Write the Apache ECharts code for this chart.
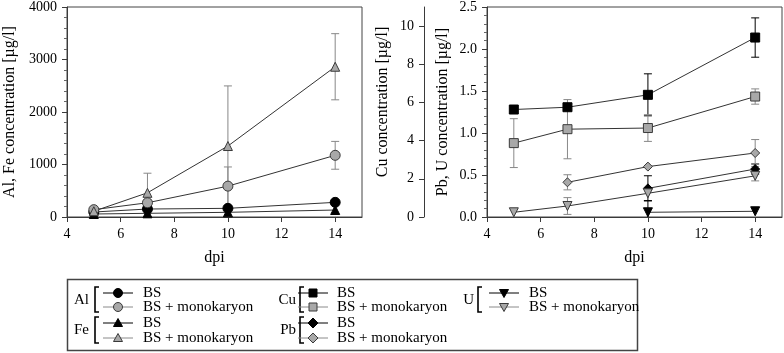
<!DOCTYPE html>
<html>
<head>
<meta charset="utf-8">
<script src="https://cdn.jsdelivr.net/npm/echarts@6/dist/echarts.min.js"></script>
<style>
  html, body { margin: 0; padding: 0; background: #fff; }
  #chart { width: 784px; height: 353px; }
</style>
</head>
<body>
<div id="chart"></div>
<script>
// days post infection
const dpi = [5, 7, 10, 14];

// left panel, µg/l
const alBS = [95, 152, 165, 279];
const alMono = [140, 271, 588, 1175];
const alMonoErr = [null, 60, 365, 265];
const feBS = [57, 70, 89, 133];
const feMono = [110, 461, 1352, 2862];
const feMonoErr = [null, 373, 1145, 630];

// right panel, Cu on its own axis
const cuBS = [5.63, 5.75, 6.40, 9.40];
const cuBSErr = [null, null, 1.1, 1.03];
const cuMono = [3.87, 4.60, 4.66, 6.31];
const cuMonoErr = [1.28, 1.55, 0.7, 0.4];

// Pb, U
const pbBS = [null, null, 0.341, 0.571];
const pbBSErr = [null, null, 0.15, 0.06];
const pbMono = [null, 0.413, 0.60, 0.762];
const pbMonoErr = [null, 0.09, null, 0.16];
const uBS = [null, null, 0.056, 0.068];
const uBSErr = [null, null, 0.14, null];
const uMono = [0.056, 0.131, 0.282, 0.49];
const uMonoErr = [null, 0.1, null, 0.06];

const xTicks = [4, 6, 8, 10, 12, 14];
const cuTicks = [0, 2, 4, 6, 8, 10];

const FONT = 'Liberation Serif';
const BLACK = '#000';
const GRAY = '#a8a8a8';
const EDGE = '#3a3a3a';

function pts(vals) {
  return dpi.map((d, i) => vals[i] == null ? null : [d, vals[i]]).filter(Boolean);
}
function errPts(vals, errs) {
  return dpi.map((d, i) => (vals[i] == null || errs[i] == null) ? null : [d, vals[i], errs[i]]).filter(Boolean);
}

function lineSeries(name, vals, xi, yi, symbol, fill, rotate) {
  return {
    name: name, type: 'line', xAxisIndex: xi, yAxisIndex: yi,
    data: pts(vals), symbol: symbol, symbolSize: symbol === 'circle' ? 10 : 9,
    symbolRotate: rotate || 0, z: 5, animation: false,
    lineStyle: { color: '#333', width: 1 },
    itemStyle: { color: fill, borderColor: fill === BLACK ? BLACK : EDGE, borderWidth: 1 }
  };
}

function errSeries(vals, errs, xi, yi, color) {
  return {
    type: 'custom', xAxisIndex: xi, yAxisIndex: yi, z: 2, animation: false,
    data: errPts(vals, errs),
    renderItem: function (params, api) {
      const x = api.value(0), y = api.value(1), e = api.value(2);
      const lo = Math.max(y - e, 0);
      const top = api.coord([x, y + e]);
      const bot = api.coord([x, lo]);
      const w = 4;
      const st = { stroke: color, lineWidth: 1 };
      const kids = [
        { type: 'line', shape: { x1: top[0], y1: top[1], x2: bot[0], y2: bot[1] }, style: st },
        { type: 'line', shape: { x1: top[0] - w, y1: top[1], x2: top[0] + w, y2: top[1] }, style: st }
      ];
      if (y - e >= 0) {
        kids.push({ type: 'line', shape: { x1: bot[0] - w, y1: bot[1], x2: bot[0] + w, y2: bot[1] }, style: st });
      }
      return { type: 'group', children: kids };
    }
  };
}

const labelStyle = { fontFamily: FONT, fontSize: 14, color: BLACK, margin: 10 };
const nameStyle = { fontFamily: FONT, fontSize: 16, color: BLACK };

function xAxis(gi) {
  return {
    type: 'value', gridIndex: gi, min: 4, max: 15, interval: 2,
    name: 'dpi', nameLocation: 'middle', nameGap: 33,
    nameTextStyle: nameStyle,
    axisLine: { lineStyle: { color: EDGE } },
    axisTick: { length: 5, lineStyle: { color: EDGE }, customValues: xTicks },
    axisLabel: Object.assign({ customValues: xTicks }, labelStyle),
    splitLine: { show: false }
  };
}

// legend drawn by hand (bracketed groups)
const legendGroups = [
  { label: 'Al', lx: 89, bx: 95, mx: 118, tx: 143, y1: 293, y2: 307,
    rows: [['circle', BLACK, 'BS'], ['circle', GRAY, 'BS + monokaryon']] },
  { label: 'Fe', lx: 89, bx: 95, mx: 118, tx: 143, y1: 323, y2: 338,
    rows: [['triangle', BLACK, 'BS'], ['triangle', GRAY, 'BS + monokaryon']] },
  { label: 'Cu', lx: 296, bx: 300, mx: 313, tx: 337, y1: 293, y2: 307,
    rows: [['rect', BLACK, 'BS'], ['rect', GRAY, 'BS + monokaryon']] },
  { label: 'Pb', lx: 296, bx: 300, mx: 313, tx: 337, y1: 323, y2: 338,
    rows: [['diamond', BLACK, 'BS'], ['diamond', GRAY, 'BS + monokaryon']] },
  { label: 'U', lx: 474, bx: 478, mx: 504, tx: 529, y1: 293, y2: 307,
    rows: [['down', BLACK, 'BS'], ['down', GRAY, 'BS + monokaryon']] }
];

function marker(kind, cx, cy, fill) {
  const style = { fill: fill, stroke: fill === BLACK ? BLACK : EDGE, lineWidth: 1 };
  const s = 4.5;
  if (kind === 'circle') return { type: 'circle', shape: { cx: cx, cy: cy, r: 4.5 }, style: style };
  if (kind === 'rect') return { type: 'rect', shape: { x: cx - 4, y: cy - 4, width: 8, height: 8 }, style: style };
  if (kind === 'triangle') return { type: 'polygon', shape: { points: [[cx, cy - s], [cx + s, cy + s - 1], [cx - s, cy + s - 1]] }, style: style };
  if (kind === 'down') return { type: 'polygon', shape: { points: [[cx, cy + s], [cx + s, cy - s + 1], [cx - s, cy - s + 1]] }, style: style };
  return { type: 'polygon', shape: { points: [[cx, cy - s - 0.5], [cx + s + 0.5, cy], [cx, cy + s + 0.5], [cx - s - 0.5, cy]] }, style: style };
}

const graphics = [
  { type: 'rect', shape: { x: 67.5, y: 279.5, width: 570, height: 71 },
    style: { fill: 'none', stroke: '#444', lineWidth: 1.5 } }
];
legendGroups.forEach(g => {
  const mid = (g.y1 + g.y2) / 2;
  graphics.push({ type: 'text', x: g.lx, y: mid,
    style: { text: g.label, font: '15px ' + FONT, fill: BLACK, align: 'right', verticalAlign: 'middle' } });
  graphics.push({ type: 'polyline', shape: { points: [[g.bx + 4, g.y1 - 6], [g.bx, g.y1 - 6], [g.bx, g.y2 + 5], [g.bx + 4, g.y2 + 5]] },
    style: { stroke: BLACK, lineWidth: 1.6, fill: 'none' } });
  g.rows.forEach((r, i) => {
    const y = i === 0 ? g.y1 : g.y2;
    graphics.push({ type: 'line', shape: { x1: g.mx - 15, y1: y, x2: g.mx + 15, y2: y },
      style: { stroke: r[1] === BLACK ? BLACK : '#8a8a8a', lineWidth: 1 } });
    graphics.push(marker(r[0], g.mx, y, r[1]));
    graphics.push({ type: 'text', x: g.tx, y: y,
      style: { text: r[2], font: '15px ' + FONT, fill: BLACK, verticalAlign: 'middle' } });
  });
});

const option = {
  backgroundColor: '#fff',
  animation: false,
  textStyle: { fontFamily: FONT },
  grid: [
    { left: 67, top: 6, width: 295, height: 211, show: true, borderColor: '#444', borderWidth: 1 },
    { left: 487, top: 6, width: 295, height: 211, show: true, borderColor: '#444', borderWidth: 1 }
  ],
  xAxis: [xAxis(0), xAxis(1)],
  yAxis: [
    {
      type: 'value', gridIndex: 0, min: 0, max: 4000, interval: 1000,
      name: 'Al, Fe concentration [µg/l]', nameLocation: 'middle', nameGap: 49,
      nameTextStyle: nameStyle,
      axisLine: { show: true, lineStyle: { color: EDGE } },
      axisTick: { length: 5, lineStyle: { color: EDGE } },
      minorTick: { show: true, splitNumber: 5, length: 3, lineStyle: { color: '#666' } },
      axisLabel: Object.assign({ formatter: v => String(v) }, labelStyle),
      splitLine: { show: false }
    },
    {
      type: 'value', gridIndex: 1, min: 0, max: 2.5, interval: 0.5,
      name: 'Pb, U concentration [µg/l]', nameLocation: 'middle', nameGap: 36,
      nameTextStyle: nameStyle,
      axisLine: { show: true, lineStyle: { color: EDGE } },
      axisTick: { length: 5, lineStyle: { color: EDGE } },
      minorTick: { show: true, splitNumber: 5, length: 3, lineStyle: { color: '#666' } },
      axisLabel: Object.assign({ formatter: v => v.toFixed(1) }, labelStyle),
      splitLine: { show: false }
    },
    {
      type: 'value', gridIndex: 1, min: 0, max: 11, position: 'left', offset: 63,
      name: 'Cu concentration [µg/l]', nameLocation: 'middle', nameGap: 33,
      nameTextStyle: Object.assign({ padding: [0, 0, 0, 20] }, nameStyle),
      axisLine: { show: true, lineStyle: { color: EDGE } },
      axisTick: { length: 5, lineStyle: { color: EDGE }, customValues: cuTicks },
      axisLabel: Object.assign({ customValues: cuTicks }, labelStyle),
      splitLine: { show: false }
    }
  ],
  graphic: graphics,
  series: [
    errSeries(alMono, alMonoErr, 0, 0, '#888'),
    errSeries(feMono, feMonoErr, 0, 0, '#888'),
    lineSeries('Al BS', alBS, 0, 0, 'circle', BLACK),
    lineSeries('Al mono', alMono, 0, 0, 'circle', GRAY),
    lineSeries('Fe BS', feBS, 0, 0, 'triangle', BLACK),
    lineSeries('Fe mono', feMono, 0, 0, 'triangle', GRAY),

    errSeries(cuBS, cuBSErr, 1, 2, BLACK),
    errSeries(cuMono, cuMonoErr, 1, 2, '#888'),
    errSeries(pbBS, pbBSErr, 1, 1, BLACK),
    errSeries(pbMono, pbMonoErr, 1, 1, '#888'),
    errSeries(uBS, uBSErr, 1, 1, BLACK),
    errSeries(uMono, uMonoErr, 1, 1, '#888'),
    lineSeries('Cu BS', cuBS, 1, 2, 'rect', BLACK),
    lineSeries('Cu mono', cuMono, 1, 2, 'rect', GRAY),
    lineSeries('Pb BS', pbBS, 1, 1, 'diamond', BLACK),
    lineSeries('Pb mono', pbMono, 1, 1, 'diamond', GRAY),
    lineSeries('U BS', uBS, 1, 1, 'triangle', BLACK, 180),
    lineSeries('U mono', uMono, 1, 1, 'triangle', GRAY, 180)
  ]
};

const chart = echarts.init(document.getElementById('chart'), null, { renderer: 'canvas' });
chart.setOption(option);
</script>
</body>
</html>
